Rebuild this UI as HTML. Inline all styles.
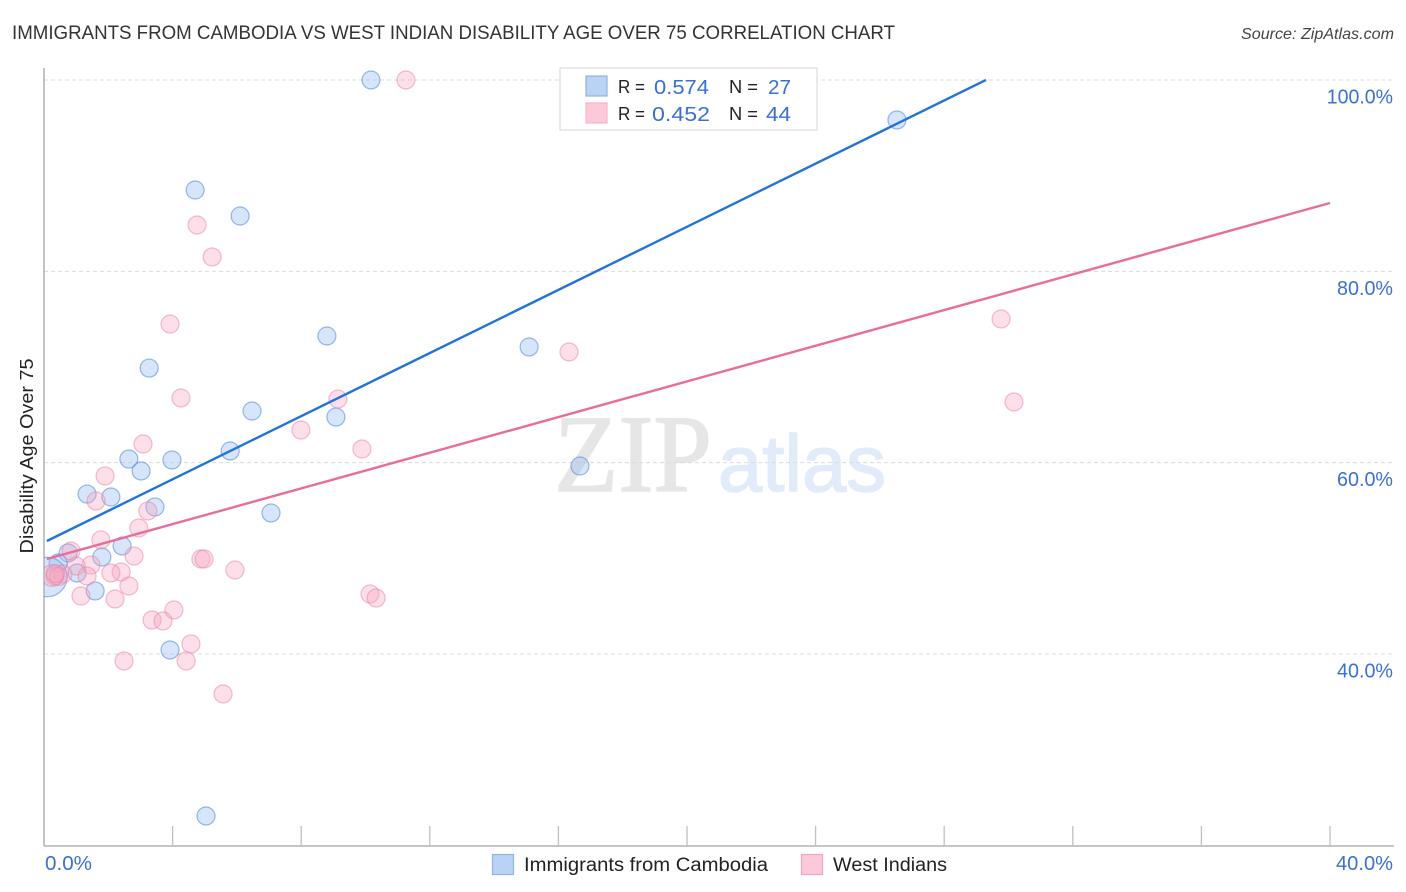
<!DOCTYPE html>
<html lang="en">
<head>
<meta charset="utf-8">
<title>Immigrants from Cambodia vs West Indian Disability Age Over 75 Correlation Chart</title>
<style>
html,body{margin:0;padding:0;background:#fff;}
svg{display:block;font-family:"Liberation Sans",sans-serif;}
</style>
</head>
<body>
<svg id="chart" xmlns="http://www.w3.org/2000/svg" width="1406" height="892" viewBox="0 0 1406 892">
  <defs><clipPath id="plot-clip"><rect x="44" y="68" width="1350" height="778"/></clipPath></defs>
  <rect x="0" y="0" width="1406" height="892" fill="#ffffff"/>
  <text x="12" y="39" font-size="19.5" fill="#333333" textLength="883" lengthAdjust="spacingAndGlyphs">IMMIGRANTS FROM CAMBODIA VS WEST INDIAN DISABILITY AGE OVER 75 CORRELATION CHART</text>
  <text x="1394" y="39" font-size="16" font-style="italic" fill="#444444" text-anchor="end" textLength="153" lengthAdjust="spacingAndGlyphs">Source: ZipAtlas.com</text>
  <text x="554" y="491" font-family="'Liberation Serif',serif" font-size="110" fill="#e6e6e6" stroke="#e6e6e6" stroke-width="1.5" textLength="158" lengthAdjust="spacingAndGlyphs">ZIP</text>
  <text x="718" y="491" font-size="80" fill="#e2ebfa" stroke="#e2ebfa" stroke-width="1.5" textLength="168" lengthAdjust="spacingAndGlyphs">atlas</text>
  <g id="grid"></g>
  <g id="axes"></g>
  <g id="points" clip-path="url(#plot-clip)"></g>
  <g id="lines"></g>
  <text transform="translate(33,456) rotate(-90)" font-size="18" fill="#222222" text-anchor="middle" textLength="195" lengthAdjust="spacingAndGlyphs">Disability Age Over 75</text>

  <g>
    <rect x="560" y="68" width="257" height="62" fill="#ffffff" stroke="#dddddd" stroke-width="1.2"/>
    <rect x="586" y="76" width="21" height="20" fill="#b9d3f5" stroke="#8fb4e6" stroke-width="1.2"/>
    <rect x="586" y="103" width="21" height="20" fill="#fcc8da" stroke="#f7b4cb" stroke-width="1.2"/>
    <text x="618" y="93" font-size="18" fill="#222222" textLength="27" lengthAdjust="spacingAndGlyphs">R =</text>
    <text x="654" y="94" font-size="20.5" fill="#3a70d0" textLength="55" lengthAdjust="spacingAndGlyphs">0.574</text>
    <text x="729" y="93" font-size="18" fill="#222222" textLength="29" lengthAdjust="spacingAndGlyphs">N =</text>
    <text x="768" y="94" font-size="20.5" fill="#3a70d0" textLength="23" lengthAdjust="spacingAndGlyphs">27</text>
    <text x="618" y="120" font-size="18" fill="#222222" textLength="27" lengthAdjust="spacingAndGlyphs">R =</text>
    <text x="652" y="121" font-size="20.5" fill="#3a70d0" textLength="58" lengthAdjust="spacingAndGlyphs">0.452</text>
    <text x="729" y="120" font-size="18" fill="#222222" textLength="29" lengthAdjust="spacingAndGlyphs">N =</text>
    <text x="766" y="121" font-size="20.5" fill="#3a70d0" textLength="25" lengthAdjust="spacingAndGlyphs">44</text>
  </g>

  <g>
    <rect x="492.500" y="854.500" width="21" height="20" fill="#b9d3f5" stroke="#8fb4e6" stroke-width="1.2"/>
    <text x="524" y="871" font-size="19" fill="#222222" textLength="244" lengthAdjust="spacingAndGlyphs">Immigrants from Cambodia</text>
    <rect x="801.500" y="854.500" width="21" height="20" fill="#fcc8da" stroke="#f0a8c0" stroke-width="1.2"/>
    <text x="833" y="871" font-size="19" fill="#222222" textLength="114" lengthAdjust="spacingAndGlyphs">West Indians</text>
  </g>
</svg>
<script>
// Chart data
const xTickValues = [0,4,8,12,16,20,24,28,32,36,40];
const yGridValues = [40,60,80,100];
const yTickLabels = ['40.0%','60.0%','80.0%','100.0%'];
const xEdgeLabels = ['0.0%','40.0%'];

const cambodiaX = [10.17,26.53,4.70,6.10,8.80,15.09,3.27,6.47,9.08,5.79,2.64,3.98,3.02,16.67,1.34,2.08,3.45,7.06,2.43,0.75,1.80,0.44,1.03,1.59,3.92,5.04,0.10];
const cambodiaY = [100,95.82,88.5,85.78,73.24,72.09,69.89,65.4,64.77,61.22,60.38,60.28,59.13,59.65,56.72,56.41,55.37,54.74,51.29,50.56,50.14,49.51,48.47,46.59,40.42,23.07,48.05];
const cambodiaWeight = [1,1,1,1,1,1,1,1,1,1,1,1,1,1,1,1,1,1,1,1,1,1,1,1,1,1,2.2];

const westIndianX = [11.26,4.76,5.23,3.92,29.77,16.33,30.17,4.26,9.14,7.99,9.89,3.08,1.90,1.62,3.23,2.95,1.77,0.84,2.80,4.88,4.98,1.46,1.00,2.40,2.08,5.94,1.34,0.59,0.34,2.64,2.21,1.15,10.14,10.33,4.04,3.36,3.70,4.57,2.49,4.42,5.57,0.25,0.45,0.35];
const westIndianY = [100,84.84,81.5,74.49,75.02,71.57,66.34,66.76,66.65,63.41,61.43,61.95,58.61,55.99,54.95,53.17,51.92,50.77,50.24,49.93,49.93,49.3,49.2,48.57,48.47,48.78,48.15,48.36,48.15,47.11,45.75,46.06,46.27,45.85,44.6,43.55,43.45,41.05,39.27,39.27,35.82,48.2,48.1,48.4];
const westIndianWeight = [1,1,1,1,1,1,1,1,1,1,1,1,1,1,1,1,1,1,1,1,1,1,1,1,1,1,1,1,1,1,1,1,1,1,1,1,1,1,1,1,1,1.2,1,1];

const cambodiaTrendX = [0.09,29.30];
const cambodiaTrendY = [51.81,100];
const westIndianTrendX = [0.09,40];
const westIndianTrendY = [49.93,87.14];

// Axis functions
const NS = 'http://www.w3.org/2000/svg';
function xScale(v){ return 44 + v * 32.15; }
function yScale(v){ return 654 - (v - 40) * 9.567; }
function make(tag, attrs, parent){
  const el = document.createElementNS(NS, tag);
  for (const k in attrs) el.setAttribute(k, attrs[k]);
  parent.appendChild(el);
  return el;
}

const grid = document.getElementById('grid');
const axes = document.getElementById('axes');
const points = document.getElementById('points');
const lines = document.getElementById('lines');

yGridValues.forEach(function(v, i){
  const y = yScale(v);
  const g = make('line', {x1:44, x2:1394, y1:y, y2:y, stroke:'#dcdcdc', 'stroke-width':1, 'stroke-dasharray':'4 3'}, grid);
  
  
  const label = yTickLabels[i];
  const t = make('text', {x:1393, y:y + 23.5, 'font-size':20, fill:'#3a70d0', 'text-anchor':'end', textLength:label.length * 11.2 - (label.length > 5 ? 1 : 0), lengthAdjust:'spacingAndGlyphs'}, axes);
  t.textContent = label;
  
  
});

const yAxis = make('line', {x1:44, x2:44, y1:68, y2:846, stroke:'#aaaaaa', 'stroke-width':1.4}, axes);


const xAxis = make('line', {x1:44, x2:1394, y1:846, y2:846, stroke:'#b4b4b4', 'stroke-width':1.4}, axes);



xTickValues.forEach(function(v){
  if (v === 0) return;
  const x = xScale(v);
  const tk = make('line', {x1:x, x2:x, y1:826, y2:846, stroke:'#c0c0c0', 'stroke-width':1.3}, axes);
  
  
});

const xLabel0 = make('text', {x:45, y:870, 'font-size':20, fill:'#3a70d0', textLength:47, lengthAdjust:'spacingAndGlyphs'}, axes);
xLabel0.textContent = xEdgeLabels[0];


const xLabel1 = make('text', {x:1393, y:870, 'font-size':20, fill:'#3a70d0', 'text-anchor':'end', textLength:57, lengthAdjust:'spacingAndGlyphs'}, axes);
xLabel1.textContent = xEdgeLabels[1];



cambodiaX.forEach(function(v, i){
  const c = make('circle', {cx:xScale(v), cy:yScale(cambodiaY[i]), r:9 * cambodiaWeight[i], fill:'rgba(147,187,238,0.38)', stroke:'rgba(75,130,215,0.55)', 'stroke-width':1.2}, points);
  
  
});
westIndianX.forEach(function(v, i){
  const c = make('circle', {cx:xScale(v), cy:yScale(westIndianY[i]), r:9 * westIndianWeight[i], fill:'rgba(246,165,192,0.36)', stroke:'rgba(232,125,165,0.5)', 'stroke-width':1.2}, points);
  
  
});

const trendBlue = make('line', {x1:xScale(cambodiaTrendX[0]), y1:yScale(cambodiaTrendY[0]), x2:xScale(cambodiaTrendX[1]), y2:yScale(cambodiaTrendY[1]), stroke:'#2273d8', 'stroke-width':2.4}, lines);


const trendPink = make('line', {x1:xScale(westIndianTrendX[0]), y1:yScale(westIndianTrendY[0]), x2:xScale(westIndianTrendX[1]), y2:yScale(westIndianTrendY[1]), stroke:'#e96c9b', 'stroke-width':2.4}, lines);


</script>
</body>
</html>
